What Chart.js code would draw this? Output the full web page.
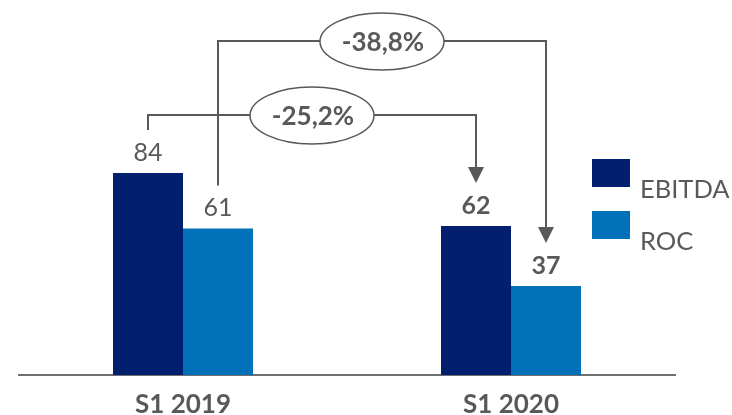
<!DOCTYPE html>
<html><head><meta charset="utf-8">
<script src="https://cdn.jsdelivr.net/npm/chart.js@4"></script>
<style>html,body{margin:0;padding:0;background:#fff;}#wrap{width:732px;height:415px;}</style>
</head><body><div id="wrap"><canvas id="c" width="732" height="415"></canvas></div>
<script>
// ---- data ----
const categories = ['S1 2019', 'S1 2020'];
const seriesNames = ['EBITDA', 'ROC'];
const ebitdaValues = [84, 62];
const rocValues = [61, 37];
const changeLabels = ['-25,2%', '-38,8%']; // change of EBITDA, change of ROC

const GRAY = '#595959';
const FONT = 'Lato';

const annotPlugin = {
  id: 'annot',
  afterDatasetsDraw(chart, args, opts) {
    const ctx = chart.ctx;
    const metas = [chart.getDatasetMeta(0), chart.getDatasetMeta(1)];
    let tallest = Infinity;
    metas.forEach(m => m.data.forEach(b => { tallest = Math.min(tallest, b.y); }));
    const levels = [tallest - opts.firstGap, tallest - opts.firstGap - opts.levelGap];
    const ellipses = [];
    ctx.save();
    ctx.strokeStyle = GRAY; ctx.fillStyle = GRAY; ctx.lineWidth = 2;
    metas.forEach((m, k) => {
      const b0 = m.data[0], b1 = m.data[1];
      const x1 = Math.round(b0.x), x2 = Math.round(b1.x);
      const lvl = Math.round(levels[k]);
      const startY = b0.y - opts.clear;
      const tipY = b1.y - opts.clear;
      ctx.beginPath();
      ctx.moveTo(x1, startY); ctx.lineTo(x1, lvl); ctx.lineTo(x2, lvl); ctx.lineTo(x2, tipY - 14);
      ctx.stroke();
      ctx.beginPath();
      ctx.moveTo(x2 - 8, tipY - 16); ctx.lineTo(x2 + 8, tipY - 16); ctx.lineTo(x2, tipY); ctx.closePath();
      ctx.fill();
      ellipses.push({x: (x1 + x2) / 2, y: lvl, text: changeLabels[k]});
    });
    ellipses.forEach(e => {
      ctx.beginPath();
      ctx.ellipse(e.x, e.y + 0.5, 62, 28.5, 0, 0, Math.PI * 2);
      ctx.fillStyle = '#fff'; ctx.fill();
      ctx.lineWidth = 1.5; ctx.strokeStyle = GRAY; ctx.stroke();
      ctx.fillStyle = GRAY;
      ctx.font = 'bold 26px ' + FONT;
      ctx.textAlign = 'center'; ctx.textBaseline = 'middle';
      ctx.fillText(e.text, e.x + 1, e.y + 1.5);
    });
    metas.forEach((m, k) => {
      m.data.forEach((b, j) => {
        const v = chart.data.datasets[k].data[j];
        ctx.font = (j === 1 ? 'bold ' : '') + '25px ' + FONT;
        ctx.fillStyle = GRAY;
        ctx.textAlign = 'center'; ctx.textBaseline = 'middle';
        ctx.fillText(String(v), b.x, b.y - 20);
      });
    });
    chart.data.datasets.forEach((ds, k) => {
      const bx = opts.legendX, by = opts.legendY + k * opts.legendStep;
      ctx.fillStyle = ds.backgroundColor;
      ctx.fillRect(bx, by, 38, 28);
      ctx.fillStyle = GRAY;
      ctx.font = '25.5px ' + FONT;
      ctx.textAlign = 'left'; ctx.textBaseline = 'middle';
      ctx.fillText(ds.label, bx + 48, by + 31);
    });
    ctx.restore();
  }
};

new Chart(document.getElementById('c'), {
  type: 'bar',
  data: {
    labels: categories,
    datasets: [
      { label: seriesNames[0], data: ebitdaValues, backgroundColor: '#021E6E', borderWidth: 0 },
      { label: seriesNames[1], data: rocValues, backgroundColor: '#0070B8', borderWidth: 0 }
    ]
  },
  options: {
    responsive: false,
    animation: false,
    devicePixelRatio: 1,
    categoryPercentage: 0.4268,
    barPercentage: 1,
    layout: { padding: { top: 14.5, left: 19, right: 57, bottom: 0 } },
    plugins: {
      legend: { display: false },
      tooltip: { enabled: false },
      annot: { firstGap: 58, levelGap: 74, clear: 43, legendX: 592, legendY: 159, legendStep: 52 }
    },
    scales: {
      x: {
        grid: { display: false, drawTicks: false },
        border: { display: true, color: '#707070', width: 2 },
        ticks: { color: GRAY, font: { family: FONT, size: 26, weight: 'bold' }, padding: 14 },
        afterFit(s) { s.height = 40; }
      },
      y: { display: false, min: 0, max: 150 }
    }
  },
  plugins: [annotPlugin]
});
</script>
</body></html>
